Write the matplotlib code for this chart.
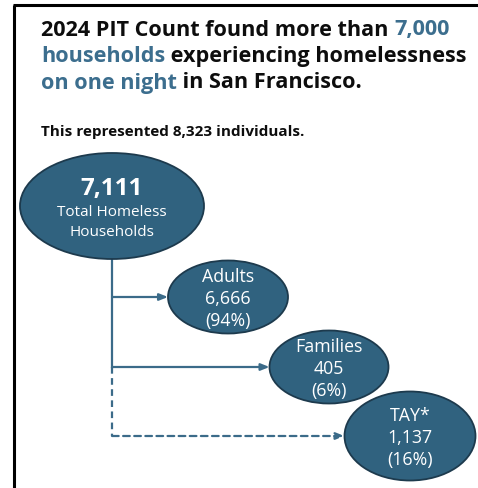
import matplotlib
matplotlib.use("Agg")
import matplotlib.pyplot as plt
from matplotlib.patches import Ellipse

plt.rcParams["font.family"] = ["Open Sans", "DejaVu Sans"]

# chart content
title_lines = [
    [("2024 PIT Count found more than ", "k"), ("7,000", "hl")],
    [("households", "hl"), (" experiencing homelessness", "k")],
    [("on one night", "hl"), (" in San Francisco.", "k")],
]
subtitle = "This represented 8,323 individuals."

total_value = "7,111"
total_label = ["Total Homeless", "Households"]

groups = ["Adults", "Families", "TAY*"]
counts = [6666, 405, 1137]
shares = [94, 6, 16]
dashed = [False, False, True]

# layout (pixel coords, y down)
W, H = 478, 489
root = dict(x=112, y=207, w=184, h=106)
nodes_x = [228, 329, 410]
nodes_y = [298, 368, 437]
nodes_w = [120, 119, 131]
nodes_h = [73, 73, 89]

fill = "#30627f"
edge = "#1d3a4d"
line_c = "#3b6b89"
hl = "#3c6e8e"

fig = plt.figure(figsize=(W / 100, H / 100), dpi=100)
ax = fig.add_axes([0, 0, 1, 1])
ax.set_xlim(0, W)
ax.set_ylim(H, 0)
ax.axis("off")

# frame
ax.plot([14, 14], [H, 6], color="k", lw=2.2, solid_capstyle="butt")
ax.plot([13, W], [6, 6], color="k", lw=2.2, solid_capstyle="butt")

# title, pieced together so colours can change mid-line
fig.canvas.draw()
renderer = fig.canvas.get_renderer()
inv = ax.transData.inverted()
for i, parts in enumerate(title_lines):
    x = 41
    y = 30 + i * 26.5
    for txt, col in parts:
        t = ax.text(x, y, txt, fontsize=15.6, fontweight="bold",
                    color=hl if col == "hl" else "#0d0d0d",
                    ha="left", va="center")
        bb = t.get_window_extent(renderer=renderer)
        x = inv.transform((bb.x1, bb.y0))[0]

ax.text(41, 132, subtitle, fontsize=11, fontweight="bold",
        color="#0d0d0d", ha="left", va="center")

# connectors
stem_bottom = nodes_y[-1]
solid_end = nodes_y[1]
ax.plot([root["x"], root["x"]], [root["y"] + root["h"] / 2, solid_end],
        color=line_c, lw=1.6, zorder=1)
ax.plot([root["x"], root["x"]], [solid_end, stem_bottom],
        color=line_c, lw=1.6, ls=(0, (3, 2)), zorder=1)
for nx, ny, nw, d in zip(nodes_x, nodes_y, nodes_w, dashed):
    ax.annotate("", xy=(nx - nw / 2, ny), xytext=(root["x"], ny),
                arrowprops=dict(arrowstyle="-|>,head_length=0.5,head_width=0.2",
                                color=line_c, lw=1.6,
                                linestyle=(0, (3, 2)) if d else "-",
                                shrinkA=0, shrinkB=0),
                zorder=1)

# root ellipse
ax.add_patch(Ellipse((root["x"], root["y"]), root["w"], root["h"],
                     facecolor=fill, edgecolor=edge, lw=1.3, zorder=2))
ax.text(root["x"], 189, total_value, fontsize=17.5, fontweight="bold",
        color="white", ha="center", va="center", zorder=3)
ax.text(root["x"], 213, total_label[0], fontsize=11, color="white",
        ha="center", va="center", zorder=3)
ax.text(root["x"], 233, total_label[1], fontsize=11, color="white",
        ha="center", va="center", zorder=3)

# child ellipses
for g, c, s, nx, ny, nw, nh in zip(groups, counts, shares,
                                   nodes_x, nodes_y, nodes_w, nodes_h):
    ax.add_patch(Ellipse((nx, ny), nw, nh, facecolor=fill,
                         edgecolor=edge, lw=1.3, zorder=2))
    ax.text(nx, ny - 21, g, fontsize=12.8, color="white",
            ha="center", va="center", zorder=3)
    ax.text(nx, ny + 1, f"{c:,}", fontsize=12.8, color="white",
            ha="center", va="center", zorder=3)
    ax.text(nx, ny + 23, f"({s}%)", fontsize=12.8, color="white",
            ha="center", va="center", zorder=3)

fig.savefig("out.png", dpi=100, facecolor="white")
